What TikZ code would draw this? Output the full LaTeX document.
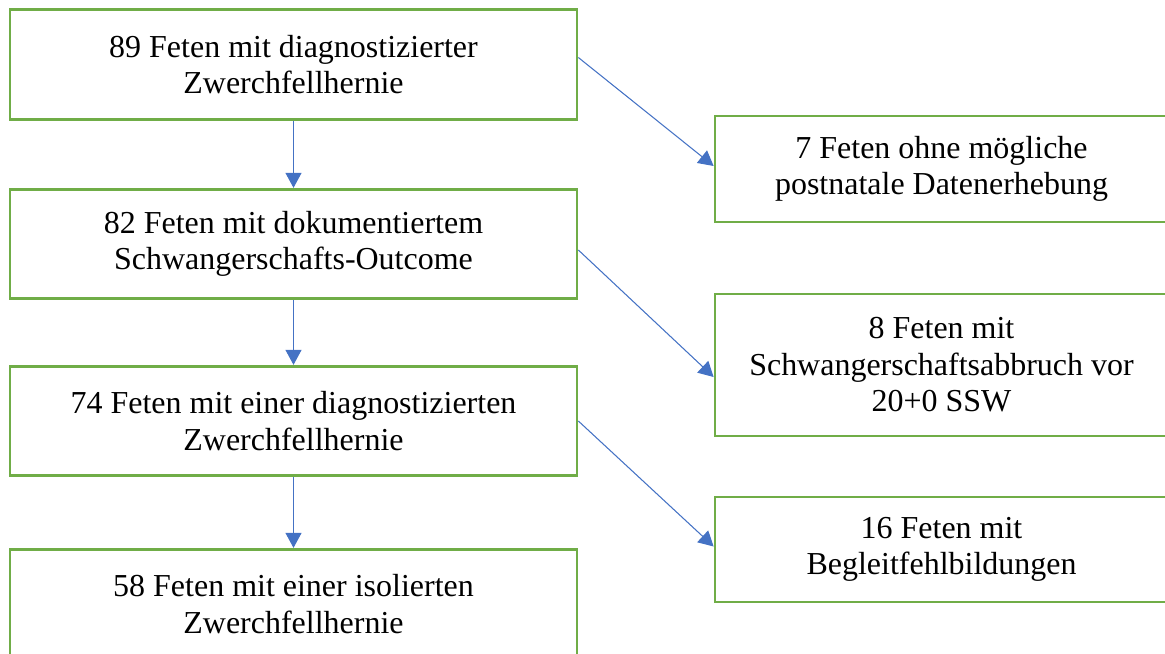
\documentclass[tikz,border=0pt]{standalone}
\usepackage{fontspec}
\setmainfont{Liberation Serif}
\usepackage{xcolor}
\usetikzlibrary{arrows.meta, calc}

\definecolor{gruen}{HTML}{70AD47}
\definecolor{blau}{HTML}{4472C4}

\begin{document}
\begin{tikzpicture}[
    x=0.02cm, y=-0.02cm,
    font=\fontsize{18.2}{20.8}\selectfont,
    kasten/.style={draw=gruen, line width=1.6pt, fill=white, align=center,
                   inner sep=0pt},
    links/.style={kasten, minimum width=11.34cm, minimum height=2.19cm},
    rechts/.style={kasten, minimum width=9.06cm},
    pfeil/.style={draw=blau, line width=0.6pt,
                  -{Triangle[length=0.3cm, width=0.32cm]}}
  ]
  \clip (0,0) rectangle (1165,653);

  % --- Hauptpfad ---
  \node[links] (b1) at (293.5,64.5) {89 Feten mit diagnostizierter\\Zwerchfellhernie};
  \node[links] (b2) at (293.5,244) {82 Feten mit dokumentiertem\\Schwangerschafts-Outcome};
  \node[links] (b3) at (293.5,421) {74 Feten mit einer diagnostizierten\\Zwerchfellhernie};
  \node[links] (b4) at (293.5,604) {58 Feten mit einer isolierten\\Zwerchfellhernie};

  % --- Ausschluesse ---
  \node[rechts, minimum height=2.12cm] (r1) at (941.5,169) {7 Feten ohne m\"ogliche\\postnatale Datenerhebung};
  \node[rechts, minimum height=2.84cm] (r2) at (941.5,365) {8 Feten mit\\Schwangerschaftsabbruch vor\\20+0 SSW};
  \node[rechts, minimum height=2.10cm] (r3) at (941.5,549.5) {16 Feten mit\\Begleitfehlbildungen};

  % --- Pfeile ---
  \foreach \a/\b in {b1/b2,b2/b3,b3/b4}
    \draw[pfeil] (\a.south) -- (\b.north);
  \draw[pfeil] ($(b1.east)+(0,-7)$) -- ($(r1.west)+(0,-3)$);
  \draw[pfeil] ($(b2.east)+(0,6)$) -- ($(r2.west)+(0,12)$);
  \draw[pfeil] (b3.east) -- ($(r3.west)+(0,-3)$);

\end{tikzpicture}
\end{document}
